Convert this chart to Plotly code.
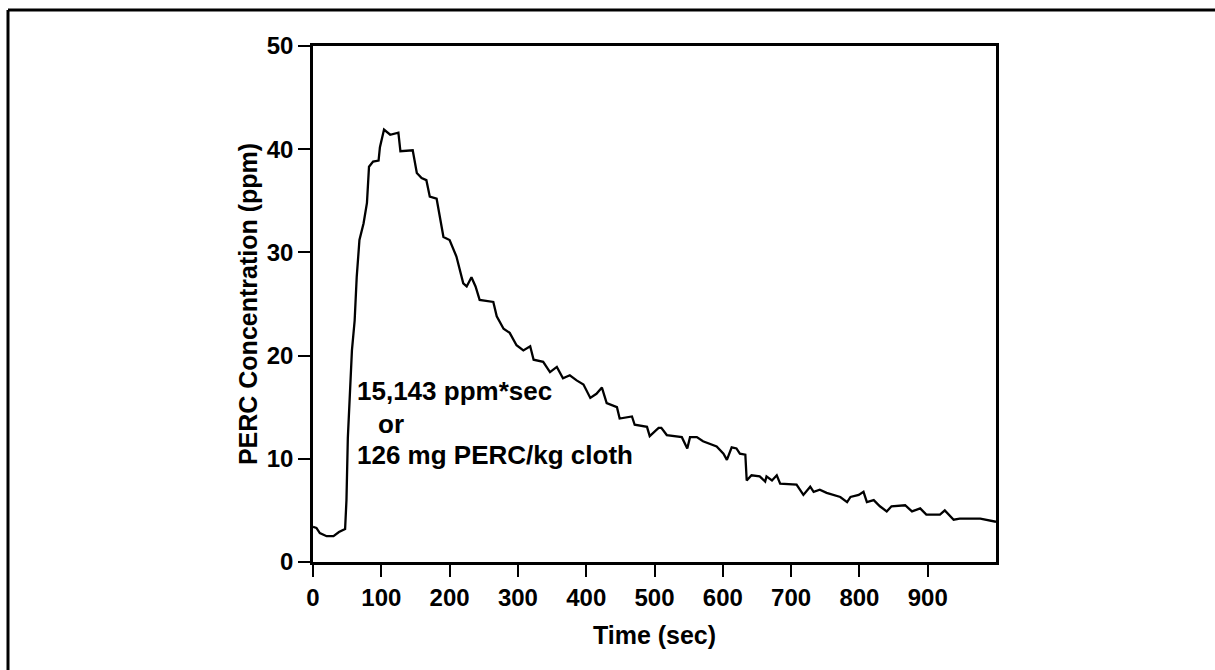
import plotly.graph_objects as go

# Data
time_sec = [0, 5, 10, 20, 30, 38, 47, 49, 51, 54, 57, 61, 64, 68, 74, 79, 82, 88, 96, 98,
            104, 113, 125, 128, 146, 152, 159, 166, 171, 181, 191, 200, 210, 220, 225, 232,
            238, 244, 264, 269, 279, 288, 298, 308, 318, 323, 337, 347, 357, 366, 376, 386,
            396, 406, 415, 423, 430, 445, 449, 467, 471, 489, 493, 506, 510, 518, 540, 548,
            552, 562, 571, 591, 601, 606, 613, 620, 625, 633, 635, 642, 654, 662, 664, 672,
            679, 684, 708, 718, 728, 733, 742, 752, 772, 782, 787, 799, 806, 811, 821, 830,
            840, 847, 867, 877, 889, 898, 918, 925, 938, 947, 977, 1000]
perc_ppm = [3.4, 3.3, 2.8, 2.5, 2.5, 2.9, 3.2, 6.0, 12.0, 17.0, 20.5, 23.4, 27.6, 31.2, 32.8,
            34.8, 38.3, 38.8, 38.9, 40.2, 41.9, 41.4, 41.6, 39.8, 39.9, 37.7, 37.2, 37.0, 35.4,
            35.2, 31.5, 31.2, 29.6, 27.0, 26.7, 27.6, 26.7, 25.4, 25.2, 23.8, 22.6, 22.2, 21.0,
            20.5, 20.9, 19.6, 19.4, 18.4, 18.9, 17.8, 18.1, 17.6, 17.2, 15.9, 16.3, 16.9, 15.4,
            15.0, 13.9, 14.1, 13.3, 13.1, 12.2, 13.0, 13.0, 12.3, 12.1, 11.0, 12.1, 12.1, 11.7,
            11.2, 10.5, 9.9, 11.1, 11.0, 10.5, 10.4, 7.9, 8.4, 8.3, 7.8, 8.3, 7.9, 8.4, 7.6,
            7.5, 6.5, 7.3, 6.8, 7.0, 6.7, 6.3, 5.8, 6.3, 6.5, 6.8, 5.8, 6.0, 5.4, 4.9, 5.4,
            5.5, 4.9, 5.2, 4.6, 4.6, 5.0, 4.1, 4.2, 4.2, 3.9]

x_ticks = [0, 100, 200, 300, 400, 500, 600, 700, 800, 900]
y_ticks = [0, 10, 20, 30, 40, 50]
annotation_lines = ["15,143 ppm*sec", "or", "126 mg PERC/kg cloth"]
annotation_x = [61, 92, 62]
annotation_y = [16.6, 13.4, 10.4]

FONT = "Arial, Liberation Sans, sans-serif"

fig = go.Figure()
fig.add_trace(go.Scatter(x=time_sec, y=perc_ppm, mode="lines",
                         line=dict(color="black", width=2.3), showlegend=False,
                         hoverinfo="skip"))

for txt, ax, ay in zip(annotation_lines, annotation_x, annotation_y):
    fig.add_annotation(x=ax, y=ay, text=txt, showarrow=False, xanchor="left",
                       yanchor="middle",
                       font=dict(family=FONT, size=26, color="black", weight="bold"))

axis_common = dict(showgrid=False, zeroline=False, showline=True, linecolor="black",
                   linewidth=2.5, mirror=True, ticks="outside", ticklen=12,
                   tickwidth=2, tickcolor="black",
                   tickfont=dict(family=FONT, size=24, color="black", weight="bold"))

fig.update_xaxes(range=[0, 1000], tickvals=x_ticks, ticktext=[str(v) for v in x_ticks],
                 title=dict(text="Time (sec)", standoff=17,
                            font=dict(family=FONT, size=25, color="black", weight="bold")),
                 **axis_common)
fig.update_yaxes(range=[0, 50], tickvals=y_ticks, ticktext=[str(v) for v in y_ticks],
                 title=dict(text="PERC Concentration (ppm)", standoff=2,
                            font=dict(family=FONT, size=25, color="black", weight="bold")),
                 **axis_common)

# outer frame (top and left edges), in paper coordinates
W, H = 1215, 670
L, R, T, B = 313, 996, 46, 562
def px(xp): return (xp - L) / (R - L)
def py(yp): return (B - yp) / (B - T)
fig.add_shape(type="line", xref="paper", yref="paper", x0=px(8), x1=px(1215),
              y0=py(10), y1=py(10), line=dict(color="black", width=3))
fig.add_shape(type="line", xref="paper", yref="paper", x0=px(8), x1=px(8),
              y0=py(10), y1=py(670), line=dict(color="black", width=3))

fig.update_layout(width=W, height=H, margin=dict(l=L, r=W - R, t=T, b=H - B),
                  paper_bgcolor="white", plot_bgcolor="white",
                  font=dict(family=FONT, color="black"))

fig.write_html("out.html")
